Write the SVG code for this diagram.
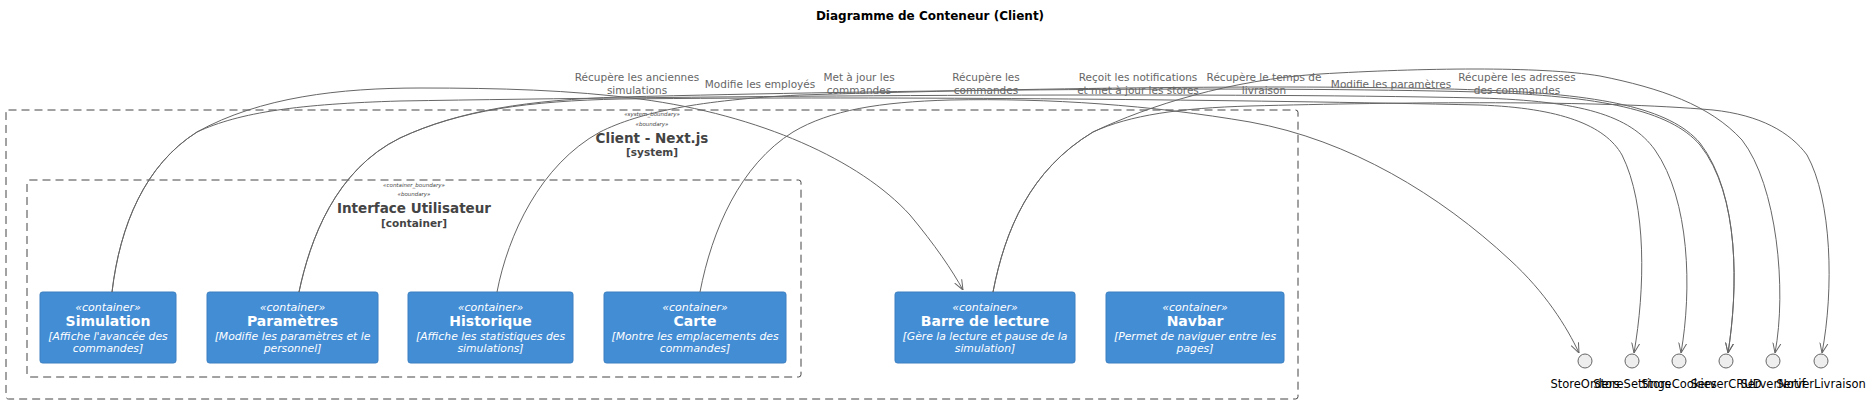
<svg xmlns="http://www.w3.org/2000/svg" width="1872" height="403" viewBox="0 0 1872 403">
<defs>
<style>
text{font-family:"DejaVu Sans","Liberation Sans",sans-serif}
.title{font-size:12px;font-weight:bold;fill:#000}
.bst{font-size:5.5px;font-style:italic;fill:#444}
.bname{font-size:13.5px;font-weight:bold;fill:#444}
.btype{font-size:10.5px;font-weight:bold;fill:#444}
.bnd{fill:none;stroke:#444;stroke-width:1;stroke-dasharray:8,5}
.box{fill:#438DD5;stroke:#3C7FC0;stroke-width:1}
.nst{font-size:11px;font-style:italic;fill:#fff}
.nname{font-size:14px;font-weight:bold;fill:#fff}
.ndesc{font-size:10.8px;font-style:italic;fill:#fff}
.edge{fill:none;stroke:#666;stroke-width:1;marker-end:url(#arr)}
.elab{font-size:10.5px;fill:#666}
.ifc{fill:#EEEEEE;stroke:#666;stroke-width:1}
.ilab{font-size:11.5px;fill:#000}
</style>
<marker id="arr" viewBox="0 0 10 10" refX="10" refY="5" markerWidth="10" markerHeight="10" markerUnits="userSpaceOnUse" orient="auto">
<path d="M0,1 L10,5 L0,9" fill="none" stroke="#666" stroke-width="1"/>
</marker>
</defs>
<rect width="1872" height="403" fill="#fff"/>
<text class="title" x="930" y="20" text-anchor="middle">Diagramme de Conteneur (Client)</text>

<g id="client-boundary">
<rect class="bnd" x="6" y="110" width="1292" height="289" rx="2.5"/>
<text class="bst" x="652" y="116" text-anchor="middle">«system_boundary»</text>
<text class="bst" x="652" y="126" text-anchor="middle">«boundary»</text>
<text class="bname" x="652" y="143" text-anchor="middle">Client - Next.js</text>
<text class="btype" x="652" y="156" text-anchor="middle">[system]</text>
</g>
<g id="ui-boundary">
<rect class="bnd" x="27" y="180" width="774" height="197" rx="2.5"/>
<text class="bst" x="414" y="187" text-anchor="middle">«container_boundary»</text>
<text class="bst" x="414" y="196" text-anchor="middle">«boundary»</text>
<text class="bname" x="414" y="213" text-anchor="middle">Interface Utilisateur</text>
<text class="btype" x="414" y="227" text-anchor="middle">[container]</text>
</g>

<g id="simulation">
<rect class="box" x="40" y="292" width="136" height="71" rx="2.5"/>
<text class="nst" x="108" y="311" text-anchor="middle">«container»</text>
<text class="nname" x="108" y="326" text-anchor="middle">Simulation</text>
<text class="ndesc" x="108" y="339.5" text-anchor="middle">[Affiche l'avancée des</text>
<text class="ndesc" x="108" y="351.5" text-anchor="middle">commandes]</text>
</g>
<g id="parametres">
<rect class="box" x="207" y="292" width="171" height="71" rx="2.5"/>
<text class="nst" x="292.5" y="311" text-anchor="middle">«container»</text>
<text class="nname" x="292.5" y="326" text-anchor="middle">Paramètres</text>
<text class="ndesc" x="292.5" y="339.5" text-anchor="middle">[Modifie les paramètres et le</text>
<text class="ndesc" x="292.5" y="351.5" text-anchor="middle">personnel]</text>
</g>
<g id="historique">
<rect class="box" x="408" y="292" width="165" height="71" rx="2.5"/>
<text class="nst" x="490.5" y="311" text-anchor="middle">«container»</text>
<text class="nname" x="490.5" y="326" text-anchor="middle">Historique</text>
<text class="ndesc" x="490.5" y="339.5" text-anchor="middle">[Affiche les statistiques des</text>
<text class="ndesc" x="490.5" y="351.5" text-anchor="middle">simulations]</text>
</g>
<g id="carte">
<rect class="box" x="604" y="292" width="182" height="71" rx="2.5"/>
<text class="nst" x="695" y="311" text-anchor="middle">«container»</text>
<text class="nname" x="695" y="326" text-anchor="middle">Carte</text>
<text class="ndesc" x="695" y="339.5" text-anchor="middle">[Montre les emplacements des</text>
<text class="ndesc" x="695" y="351.5" text-anchor="middle">commandes]</text>
</g>
<g id="barre">
<rect class="box" x="895" y="292" width="180" height="71" rx="2.5"/>
<text class="nst" x="985" y="311" text-anchor="middle">«container»</text>
<text class="nname" x="985" y="326" text-anchor="middle">Barre de lecture</text>
<text class="ndesc" x="985" y="339.5" text-anchor="middle">[Gère la lecture et pause de la</text>
<text class="ndesc" x="985" y="351.5" text-anchor="middle">simulation]</text>
</g>
<g id="navbar">
<rect class="box" x="1106" y="292" width="178" height="71" rx="2.5"/>
<text class="nst" x="1195" y="311" text-anchor="middle">«container»</text>
<text class="nname" x="1195" y="326" text-anchor="middle">Navbar</text>
<text class="ndesc" x="1195" y="339.5" text-anchor="middle">[Permet de naviguer entre les</text>
<text class="ndesc" x="1195" y="351.5" text-anchor="middle">pages]</text>
</g>

<g id="StoreOrders"><circle class="ifc" cx="1585" cy="361" r="7"/><text class="ilab" x="1585" y="388" text-anchor="middle">StoreOrders</text></g>
<g id="StoreSettings"><circle class="ifc" cx="1632" cy="361" r="7"/><text class="ilab" x="1632" y="388" text-anchor="middle">StoreSettings</text></g>
<g id="StoreCookies"><circle class="ifc" cx="1679" cy="361" r="7"/><text class="ilab" x="1679" y="388" text-anchor="middle">StoreCookies</text></g>
<g id="ServerCRUD"><circle class="ifc" cx="1726" cy="361" r="7"/><text class="ilab" x="1726" y="388" text-anchor="middle">ServerCRUD</text></g>
<g id="ServerNotif"><circle class="ifc" cx="1773" cy="361" r="7"/><text class="ilab" x="1773" y="388" text-anchor="middle">ServerNotif</text></g>
<g id="ServerLivraison"><circle class="ifc" cx="1821" cy="361" r="7"/><text class="ilab" x="1821" y="388" text-anchor="middle">ServerLivraison</text></g>

<g id="connectors">
<path class="edge" d="M112,292 C120,225 145,165 197,132 C260,97 340,88 420,88 C500,88 570,90 640,99 C760,115 860,160 910,215 C935,245 952,270 963,290"/>
<path class="edge" d="M112,292 C120,225 145,165 197,132 C240,112 300,104 400,101 C700,96 1200,92 1480,98 C1580,101 1630,115 1655,150 C1690,200 1692,290 1681,353"/>
<path class="edge" d="M299,292 C310,240 335,170 400,138 C460,110 530,101 620,99 C900,96 1250,100 1480,105 C1560,108 1605,125 1622,155 C1647,205 1645,290 1634,353"/>
<path class="edge" d="M299,292 C310,240 335,170 400,138 C460,110 530,100 620,97 C900,90 1250,86 1480,92 C1600,96 1670,110 1700,145 C1740,195 1738,290 1728,353"/>
<path class="edge" d="M497,292 C508,235 540,165 600,132 C640,112 700,100 800,95 C1100,86 1350,85 1480,90 C1600,94 1670,108 1700,143 C1740,195 1738,290 1728,353"/>
<path class="edge" d="M700,292 C712,230 740,165 793,132 C830,110 880,102 950,100 C1050,98 1150,105 1250,122 C1350,140 1440,195 1510,260 C1545,292 1567,327 1579,353"/>
<path class="edge" d="M993,292 C1005,230 1030,170 1093,132 C1130,115 1180,108 1250,106 C1400,102 1600,100 1713,110 C1760,115 1790,132 1807,155 C1832,200 1834,290 1822,353"/>
<path class="edge" d="M993,292 C1005,230 1030,170 1093,132 C1150,105 1230,80 1320,74 C1420,68 1540,66 1600,76 C1660,88 1710,105 1742,140 C1777,185 1787,290 1775,353"/>
<text class="elab" x="637" y="80.5" text-anchor="middle">Récupère les anciennes</text>
<text class="elab" x="637" y="93.5" text-anchor="middle">simulations</text>
<text class="elab" x="760" y="87.5" text-anchor="middle">Modifie les employés</text>
<text class="elab" x="859" y="80.5" text-anchor="middle">Met à jour les</text>
<text class="elab" x="859" y="93.5" text-anchor="middle">commandes</text>
<text class="elab" x="986" y="80.5" text-anchor="middle">Récupère les</text>
<text class="elab" x="986" y="93.5" text-anchor="middle">commandes</text>
<text class="elab" x="1138" y="80.5" text-anchor="middle">Reçoit les notifications</text>
<text class="elab" x="1138" y="93.5" text-anchor="middle">et met à jour les stores</text>
<text class="elab" x="1264" y="80.5" text-anchor="middle">Récupère le temps de</text>
<text class="elab" x="1264" y="93.5" text-anchor="middle">livraison</text>
<text class="elab" x="1391" y="87.5" text-anchor="middle">Modifie les paramètres</text>
<text class="elab" x="1517" y="80.5" text-anchor="middle">Récupère les adresses</text>
<text class="elab" x="1517" y="93.5" text-anchor="middle">des commandes</text>
</g>
</svg>
